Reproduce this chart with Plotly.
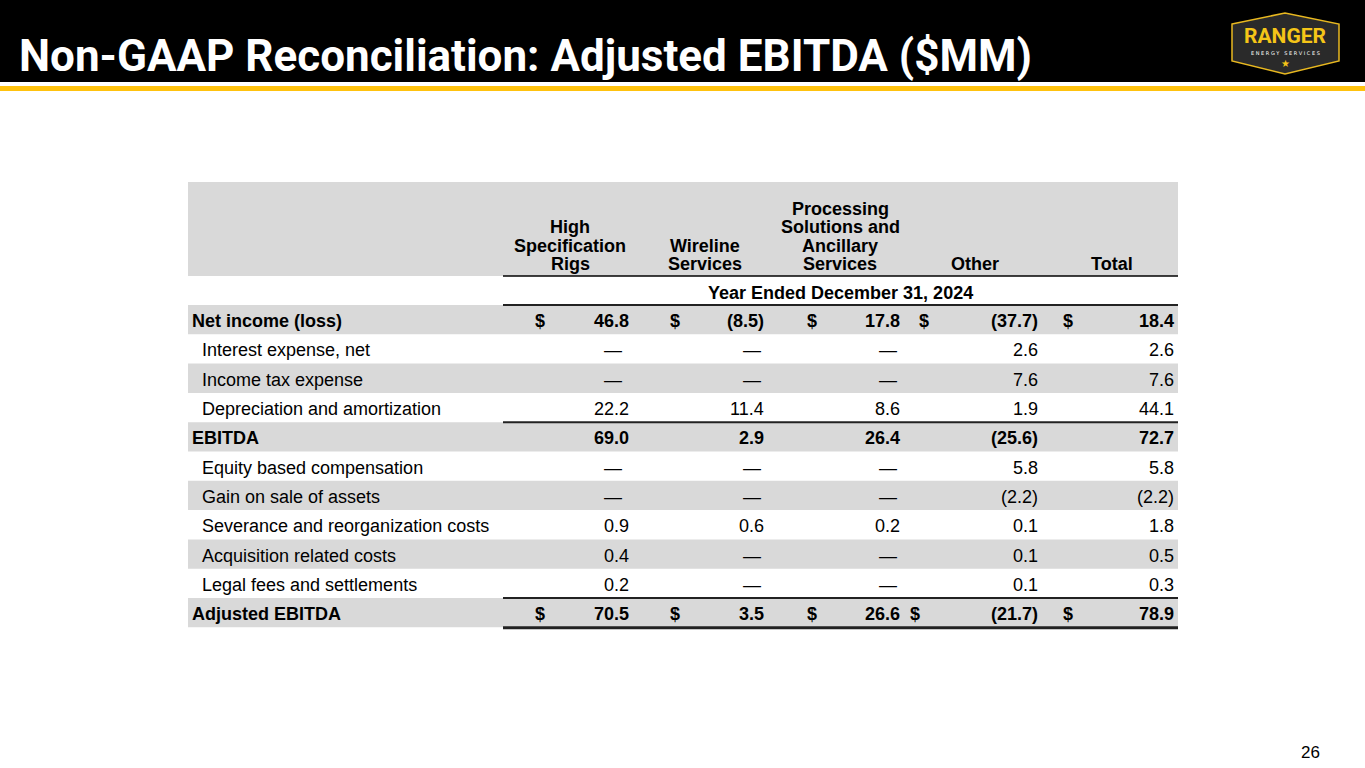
import plotly.graph_objects as go

# ---------------- data ----------------
title = "Non-GAAP Reconciliation: Adjusted EBITDA ($MM)"
period = "Year Ended December 31, 2024"
column_headers = [
    ["High", "Specification", "Rigs"],
    ["Wireline", "Services"],
    ["Processing", "Solutions and", "Ancillary", "Services"],
    ["Other"],
    ["Total"],
]
row_labels = [
    "Net income (loss)",
    "Interest expense, net",
    "Income tax expense",
    "Depreciation and amortization",
    "EBITDA",
    "Equity based compensation",
    "Gain on sale of assets",
    "Severance and reorganization costs",
    "Acquisition related costs",
    "Legal fees and settlements",
    "Adjusted EBITDA",
]
bold_rows = [0, 4, 10]
dollar_rows = [0, 10]
high_spec = [46.8, None, None, 22.2, 69.0, None, None, 0.9, 0.4, 0.2, 70.5]
wireline = [-8.5, None, None, 11.4, 2.9, None, None, 0.6, None, None, 3.5]
processing = [17.8, None, None, 8.6, 26.4, None, None, 0.2, None, None, 26.6]
other = [-37.7, 2.6, 7.6, 1.9, -25.6, 5.8, -2.2, 0.1, 0.1, 0.1, -21.7]
total = [18.4, 2.6, 7.6, 44.1, 72.7, 5.8, -2.2, 1.8, 0.5, 0.3, 78.9]
page_number = "26"

series = [high_spec, wireline, processing, other, total]

# ---------------- layout constants ----------------
W, H = 1365, 768
FONT = "Arial, Liberation Sans, sans-serif"
GRAY = "#D9D9D9"
YELLOW = "#FFC20E"
TBL_L, TBL_R = 188, 1178
NUM_L = 503
HDR_TOP, HDR_BOT = 182, 276
ROW_TOP, ROW_H = 305, 29.3
col_right = [631, 766, 902, 1040, 1176]
col_center = [570, 705, 840, 975, 1112]
dash_center = [613, 752, 888, 1025, 1160]
dollar_center = [540, 675, 812, 924, 1068]
FS = 18


def fmt(v):
    if v is None:
        return "\u2014"
    s = f"{abs(v):.1f}"
    return f"({s})" if v < 0 else s


shapes = []
ann = []

# header bar
shapes.append(dict(type="rect", x0=0, x1=W, y0=0, y1=82, fillcolor="black", line=dict(width=0), layer="below"))
shapes.append(dict(type="rect", x0=0, x1=W, y0=86, y1=91, fillcolor=YELLOW, line=dict(width=0), layer="below"))
ann.append(dict(x=17, y=56, text=f"<b>{title}</b>", showarrow=False, xanchor="left", yanchor="middle",
                font=dict(family="Roboto, sans-serif", size=44, color="white")))

# logo badge
shapes.append(dict(type="path", path="M1232,24 L1285,13 L1339,24 L1339,61 L1285,74 L1232,61 Z",
                   fillcolor="#2A2A2A", line=dict(color="#E8B820", width=1.5)))
ann.append(dict(x=1285, y=36, text="<b>RANGER</b>", showarrow=False, xanchor="center", yanchor="middle",
                font=dict(family="Roboto, sans-serif", size=21, color="#F5C518")))
ann.append(dict(x=1285, y=53, text="E N E R G Y   S E R V I C E S", showarrow=False, xanchor="center", yanchor="middle",
                font=dict(family="DejaVu Sans, sans-serif", size=5, color="white")))
ann.append(dict(x=1285, y=63, text="\u2605", showarrow=False, xanchor="center", yanchor="middle",
                font=dict(family="DejaVu Sans, sans-serif", size=10, color="#F5C518")))

# table header
shapes.append(dict(type="rect", x0=TBL_L, x1=TBL_R, y0=HDR_TOP, y1=HDR_BOT, fillcolor=GRAY, line=dict(width=0), layer="below"))
line_gap = 18.3
for c, lines in enumerate(column_headers):
    n = len(lines)
    for i, t in enumerate(lines):
        yc = 264 - (n - 1 - i) * line_gap
        ann.append(dict(x=col_center[c], y=yc, text=f"<b>{t}</b>", showarrow=False, xanchor="center",
                        yanchor="middle", font=dict(family=FONT, size=FS, color="black")))
shapes.append(dict(type="line", x0=NUM_L, x1=TBL_R, y0=HDR_BOT, y1=HDR_BOT, line=dict(color="black", width=1.5)))
ann.append(dict(x=840, y=293, text=f"<b>{period}</b>", showarrow=False, xanchor="center", yanchor="middle",
                font=dict(family=FONT, size=FS, color="black")))

# rows
for r, label in enumerate(row_labels):
    y0 = ROW_TOP + r * ROW_H
    y1 = y0 + ROW_H
    yc = (y0 + y1) / 2 + 1.5
    if r % 2 == 0:
        shapes.append(dict(type="rect", x0=TBL_L, x1=TBL_R, y0=y0, y1=y1, fillcolor=GRAY, line=dict(width=0), layer="below"))
    bold = r in bold_rows
    lab = f"<b>{label}</b>" if bold else label
    ann.append(dict(x=190 if bold else 200, y=yc, text=lab, showarrow=False, xanchor="left", yanchor="middle",
                    font=dict(family=FONT, size=FS, color="black")))
    for c, ser in enumerate(series):
        v = ser[r]
        txt = fmt(v)
        if bold:
            txt = f"<b>{txt}</b>"
        if v is None:
            ann.append(dict(x=dash_center[c], y=yc, text=txt, showarrow=False, xanchor="center", yanchor="middle",
                            font=dict(family=FONT, size=FS, color="black")))
        else:
            ann.append(dict(x=col_right[c], y=yc, text=txt, showarrow=False, xanchor="right", yanchor="middle",
                            font=dict(family=FONT, size=FS, color="black")))
        if r in dollar_rows:
            dx = dollar_center[c]
            if r == 10 and c == 3:
                dx = 915
            ann.append(dict(x=dx, y=yc, text="<b>$</b>", showarrow=False, xanchor="center", yanchor="middle",
                            font=dict(family=FONT, size=FS, color="black")))

# rules
for yy, w in [(ROW_TOP, 2), (ROW_TOP + 4 * ROW_H, 2), (ROW_TOP + 10 * ROW_H, 2), (ROW_TOP + 11 * ROW_H + 0.5, 3)]:
    shapes.append(dict(type="line", x0=NUM_L, x1=TBL_R, y0=yy, y1=yy, line=dict(color="#222222", width=w)))

# page number
ann.append(dict(x=1322, y=752, text=page_number, showarrow=False, xanchor="right", yanchor="middle",
                font=dict(family=FONT, size=17, color="black")))

fig = go.Figure()
fig.add_trace(go.Scatter(x=[0], y=[0], mode="markers", marker=dict(opacity=0), hoverinfo="skip", showlegend=False))
fig.update_layout(
    width=W, height=H, margin=dict(l=0, r=0, t=0, b=0),
    paper_bgcolor="white", plot_bgcolor="white",
    xaxis=dict(range=[0, W], visible=False, fixedrange=True),
    yaxis=dict(range=[H, 0], visible=False, fixedrange=True),
    shapes=shapes, annotations=ann, showlegend=False,
)
fig.write_html("out.html", config={"displayModeBar": False},
               post_script="document.body.style.margin='0';document.body.style.overflow='hidden';")
